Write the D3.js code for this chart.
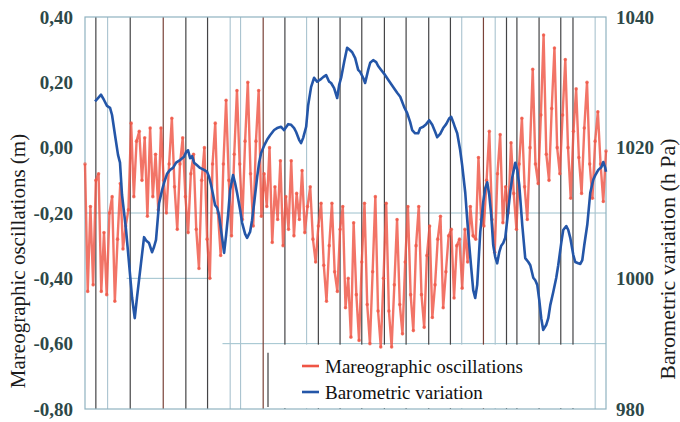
<!DOCTYPE html>
<html>
<head>
<meta charset="utf-8">
<script src="https://cdn.jsdelivr.net/npm/d3@7"></script>
<style>
  html, body { margin: 0; padding: 0; background: #fff; }
  svg { display: block; }
  svg text { font-family: "Liberation Serif", "Times New Roman", Times, "DejaVu Serif", serif; }
</style>
</head>
<body>
<svg id="chart" width="680" height="422"></svg>
<script>
// Sea level (m), one reading every 3 hours over 24 days
const tideStepHours = 3;
const tideLevels = [
  -0.05, -0.44, -0.18, -0.42, -0.10, -0.08, -0.44, -0.26, -0.45, -0.20,
  -0.15, -0.47, -0.28, -0.11, -0.31, -0.24, -0.19, 0.075, -0.15, 0.02,
  0.05, -0.10, 0.03, -0.21, 0.06, -0.15, -0.02, -0.19, 0.06, -0.10,
  -0.20, -0.05, 0.09, -0.12, -0.25, -0.05, 0.03, -0.15, -0.26, -0.08,
  -0.02, -0.25, -0.37, -0.10, 0.00, -0.28, -0.40, -0.05, 0.075, -0.20,
  -0.33, -0.05, 0.145, -0.10, -0.27, -0.02, 0.175, -0.05, -0.22, 0.02,
  0.20, -0.08, -0.24, 0.02, 0.175, -0.21, -0.08, -0.18, 0.00, -0.29,
  -0.12, -0.22, -0.04, -0.30, -0.15, -0.25, -0.04, -0.27, -0.14, -0.22,
  -0.07, -0.26, -0.18, -0.12, -0.28, -0.35, -0.24, -0.17, -0.36, -0.47,
  -0.30, -0.17, -0.38, -0.44, -0.25, -0.18, -0.49, -0.40, -0.58, -0.23,
  -0.45, -0.59, -0.35, -0.17, -0.48, -0.60, -0.38, -0.15, -0.50, -0.61,
  -0.40, -0.17, -0.50, -0.61, -0.42, -0.22, -0.48, -0.57, -0.35, -0.18,
  -0.45, -0.56, -0.30, -0.18, -0.45, -0.55, -0.33, -0.24, -0.52, -0.42,
  -0.28, -0.21, -0.49, -0.38, -0.27, -0.25, -0.46, -0.30, -0.28, -0.43,
  -0.25, -0.35, -0.18, -0.27, -0.28, -0.03, -0.22, -0.24, -0.10, 0.05,
  -0.22, -0.32, -0.08, 0.04, -0.23, -0.12, -0.20, 0.015, -0.14, -0.25,
  -0.05, 0.09, -0.12, -0.22, 0.00, 0.24, -0.05, -0.11, 0.10, 0.345,
  -0.02, -0.10, 0.12, 0.305, 0.00, -0.08, 0.10, 0.27, 0.00, -0.155,
  0.05, 0.18, -0.03, -0.14, 0.06, 0.20, -0.05, -0.155, 0.02, 0.11,
  -0.05, -0.165, -0.01
];

// Atmospheric pressure (hPa) against elapsed hours
const pressureHours = [
  11.1, 14.4, 17.7, 21.0, 24.3, 27.7, 29.9, 33.2, 36.5, 38.7,
  40.9, 45.4, 48.7, 52.0, 55.0, 57.5, 59.7, 61.9, 65.3, 67.5,
  70.8, 74.1, 76.3, 78.5, 81.9, 85.2, 87.4, 90.7, 94.0, 97.3,
  100.7, 105.1, 109.5, 111.7, 113.9, 116.2, 118.4, 120.6, 123.9, 127.2,
  131.6, 135.0, 137.2, 139.4, 141.6, 143.8, 146.0, 148.2, 150.4, 153.8,
  156.0, 158.2, 160.4, 163.7, 165.9, 168.1, 171.5, 173.7, 177.0, 179.2,
  182.5, 184.7, 188.1, 190.3, 192.5, 194.7, 198.0, 201.3, 204.6, 209.1,
  212.4, 216.8, 220.1, 224.6, 227.9, 231.2, 233.4, 236.7, 238.9, 241.2,
  244.5, 246.7, 250.0, 253.3, 256.6, 260.0, 263.3, 266.6, 269.9, 272.1,
  275.4, 278.8, 281.0, 283.2, 286.5, 289.8, 293.1, 295.4, 298.7, 302.0,
  304.2, 307.5, 309.7, 313.1, 315.3, 318.6, 321.9, 324.1, 327.4, 330.8,
  335.2, 340.7, 345.1, 348.5, 352.9, 356.2, 359.5, 361.7, 365.0, 368.4,
  370.6, 373.9, 377.2, 380.5, 383.9, 387.2, 389.4, 392.7, 396.0, 399.3,
  402.7, 404.9, 407.1, 409.3, 411.5, 414.8, 417.0, 420.4, 422.6, 424.8,
  427.0, 429.2, 431.4, 433.6, 437.0, 440.3, 442.5, 444.7, 446.9, 449.1,
  451.3, 453.5, 455.7, 458.0, 460.2, 462.4, 464.6, 466.8, 470.1, 472.3,
  475.7, 477.9, 480.1, 483.4, 486.7, 490.1, 492.3, 495.6, 497.8, 500.0,
  502.2, 504.4, 506.6, 510.0, 512.2, 514.4, 517.7, 521.0, 523.2, 526.5,
  528.7, 532.1, 534.3, 536.5, 539.8, 542.0, 545.3, 547.6, 549.8, 552.0,
  555.3, 558.6, 561.9, 564.2, 567.5, 570.8, 573.0, 575.2, 576.0
];
const pressureHPa = [
  1027.1, 1027.6, 1028.1, 1027.3, 1026.4, 1026.1, 1025.0, 1021.9, 1018.9, 1017.7,
  1012.8, 1007.4, 1002.3, 997.1, 993.9, 997.1, 999.7, 1002.3, 1006.3, 1005.8,
  1005.4, 1004.0, 1004.8, 1005.9, 1011.5, 1013.5, 1014.6, 1016.0, 1016.6, 1016.9,
  1017.7, 1018.1, 1018.6, 1019.3, 1019.6, 1018.4, 1018.7, 1017.7, 1017.3, 1016.9,
  1016.6, 1016.3, 1015.5, 1014.3, 1012.8, 1011.2, 1010.8, 1009.7, 1007.4, 1003.9,
  1006.6, 1009.7, 1013.5, 1015.8, 1014.6, 1013.1, 1010.5, 1008.5, 1006.8, 1006.2,
  1007.1, 1008.9, 1012.8, 1015.5, 1017.7, 1019.2, 1020.3, 1021.2, 1021.9, 1022.7,
  1023.0, 1023.2, 1022.7, 1023.6, 1023.5, 1023.0, 1022.4, 1021.2, 1020.7, 1021.5,
  1023.2, 1026.5, 1029.3, 1030.7, 1030.1, 1030.4, 1030.8, 1031.1, 1030.1, 1029.9,
  1029.1, 1027.6, 1029.6, 1030.7, 1033.1, 1035.3, 1034.9, 1034.6, 1033.7, 1031.9,
  1031.6, 1030.7, 1029.9, 1031.9, 1033.0, 1033.4, 1033.1, 1032.5, 1031.9, 1031.3,
  1030.4, 1029.3, 1028.4, 1027.8, 1026.2, 1025.3, 1023.9, 1022.7, 1022.2, 1022.2,
  1023.0, 1023.2, 1023.6, 1024.2, 1023.5, 1022.4, 1021.6, 1022.1, 1023.0, 1023.6,
  1024.5, 1024.7, 1023.9, 1023.0, 1022.2, 1019.6, 1017.3, 1013.1, 1008.9, 1005.1,
  1001.6, 998.2, 997.0, 999.0, 1007.1, 1011.7, 1013.8, 1014.7, 1012.8, 1009.7,
  1005.1, 1003.3, 1002.3, 1004.0, 1005.0, 1005.4, 1006.2, 1008.9, 1013.2, 1015.4,
  1017.7, 1016.6, 1014.3, 1008.2, 1003.1, 1002.5, 1002.0, 1000.1, 999.7, 999.0,
  996.7, 993.9, 992.1, 992.9, 993.9, 995.9, 997.9, 1000.1, 1002.0, 1005.4,
  1007.4, 1008.0, 1007.4, 1006.2, 1003.6, 1002.5, 1002.3, 1002.2, 1002.8, 1005.1,
  1008.2, 1013.1, 1015.1, 1015.8, 1016.6, 1017.0, 1017.8, 1016.9, 1016.3
];

// Time markers (hours) drawn as vertical rules
const markHoursDark = [12, 50, 111.5, 135.5, 221, 258, 282, 306, 331, 355, 380, 404, 466, 477.5, 502, 526, 539.5];
const markHoursBrown = [86.5, 197, 440.5];
const markHoursLight = [25, 160.5, 172, 245, 416.5, 453.5, 564];

const levelTicks = [-0.8, -0.6, -0.4, -0.2, 0, 0.2, 0.4];
const pressureTicks = [980, 1000, 1020, 1040];
const seriesNames = ["Mareographic oscillations", "Barometric variation"];
const axisTitles = ["Mareographic oscillations (m)", "Barometric variation (h Pa)"];

const RED = "#ef5545";
const BLUE = "#2456a8";
const TICK_COLOR = "#2d4848";

const svg = d3.select("#chart");
const plotL = 85, plotR = 606, plotT = 17, plotB = 409;

const x = d3.scaleLinear().domain([0, 576]).range([plotL, plotR]);
const yLevel = d3.scaleLinear().domain([-0.8, 0.4]).range([plotB, plotT]);
const yPress = d3.scaleLinear().domain([980, 1040]).range([plotB, plotT]);

// Horizontal guide segments at selected levels
const guides = svg.append("g");
[[-0.2, 0, 576], [-0.4, 46, 140], [-0.6, 152, 576]].forEach(([lv, h0, h1]) => {
  guides.append("line")
    .attr("x1", x(h0)).attr("x2", x(h1))
    .attr("y1", yLevel(lv)).attr("y2", yLevel(lv))
    .attr("stroke", "#9cc0cc").attr("stroke-width", 1);
});

// Vertical time markers
const marks = svg.append("g");
function drawMarks(hours, color, width) {
  marks.selectAll(null).data(hours).enter().append("line")
    .attr("x1", d => x(d)).attr("x2", d => x(d))
    .attr("y1", plotT).attr("y2", plotB)
    .attr("stroke", color).attr("stroke-width", width);
}
drawMarks(markHoursLight, "#a9c3cf", 1.1);
drawMarks(markHoursDark, "#444446", 1.2);
drawMarks(markHoursBrown, "#7a4238", 1.2);

// Legend panel covering the lower right of the grid
const legendX = 268, legendTop = yLevel(-0.6) + 1;
svg.append("rect")
  .attr("x", legendX + 1).attr("y", legendTop)
  .attr("width", x(560) - legendX - 1).attr("height", plotB - legendTop - 1)
  .attr("fill", "#fff");
svg.append("line")
  .attr("x1", legendX).attr("x2", legendX)
  .attr("y1", legendTop + 8).attr("y2", plotB - 2)
  .attr("stroke", "#3e3e40").attr("stroke-width", 1.2);

// Plot frame
svg.append("rect")
  .attr("x", plotL).attr("y", plotT)
  .attr("width", plotR - plotL).attr("height", plotB - plotT)
  .attr("fill", "none").attr("stroke", "#8fb2c0").attr("stroke-width", 1.2);

// Sea-level series
const tidePoints = tideLevels.map((v, i) => [i * tideStepHours, v]);
const tideLine = d3.line().x(d => x(d[0])).y(d => yLevel(d[1]));
svg.append("path")
  .datum(tidePoints)
  .attr("d", tideLine)
  .attr("fill", "none")
  .attr("stroke", RED).attr("stroke-width", 2.4)
  .attr("stroke-opacity", 0.82).attr("stroke-linejoin", "round");
svg.append("g").selectAll("circle").data(tidePoints).enter().append("circle")
  .attr("cx", d => x(d[0])).attr("cy", d => yLevel(d[1]))
  .attr("r", 1.8).attr("fill", RED).attr("fill-opacity", 0.7);

// Pressure series
const pressPoints = d3.zip(pressureHours, pressureHPa);
const pressLine = d3.line().x(d => x(d[0])).y(d => yPress(d[1]));
svg.append("path")
  .datum(pressPoints)
  .attr("d", pressLine)
  .attr("fill", "none")
  .attr("stroke", BLUE).attr("stroke-width", 2.6)
  .attr("stroke-linejoin", "round");

// Axes
const fmtLevel = d => d3.format(".2f")(d).replace(".", ",").replace("\u2212", "-");
const axL = svg.append("g").attr("transform", `translate(${plotL},0)`)
  .call(d3.axisLeft(yLevel).tickValues(levelTicks).tickSize(0).tickPadding(12).tickFormat(fmtLevel));
const axR = svg.append("g").attr("transform", `translate(${plotR},0)`)
  .call(d3.axisRight(yPress).tickValues(pressureTicks).tickSize(0).tickPadding(10).tickFormat(d3.format("d")));
[axL, axR].forEach(ax => {
  ax.attr("font-family", null).attr("font-size", null);
  ax.select(".domain").remove();
  ax.selectAll("text")
    .style("font-size", "19px").style("font-weight", "bold")
    .attr("fill", TICK_COLOR);
});

// Axis titles
svg.append("text")
  .attr("transform", "translate(25,261) rotate(-90)")
  .attr("text-anchor", "middle")
  .style("font-size", "21px").attr("fill", "#1b1b1b")
  .text(axisTitles[0]);
svg.append("text")
  .attr("transform", "translate(675,259) rotate(-90)")
  .attr("text-anchor", "middle")
  .style("font-size", "22px").attr("fill", "#1b1b1b")
  .text(axisTitles[1]);

// Legend entries
const legend = svg.append("g");
seriesNames.forEach((name, i) => {
  const cy = 366 + i * 26;
  legend.append("line")
    .attr("x1", 302).attr("x2", 319).attr("y1", cy).attr("y2", cy)
    .attr("stroke", i === 0 ? RED : BLUE).attr("stroke-width", 2.6);
  legend.append("text")
    .attr("x", 325).attr("y", cy + 7)
    .style("font-size", "19px").attr("fill", "#111")
    .text(name);
});
</script>
</body>
</html>
